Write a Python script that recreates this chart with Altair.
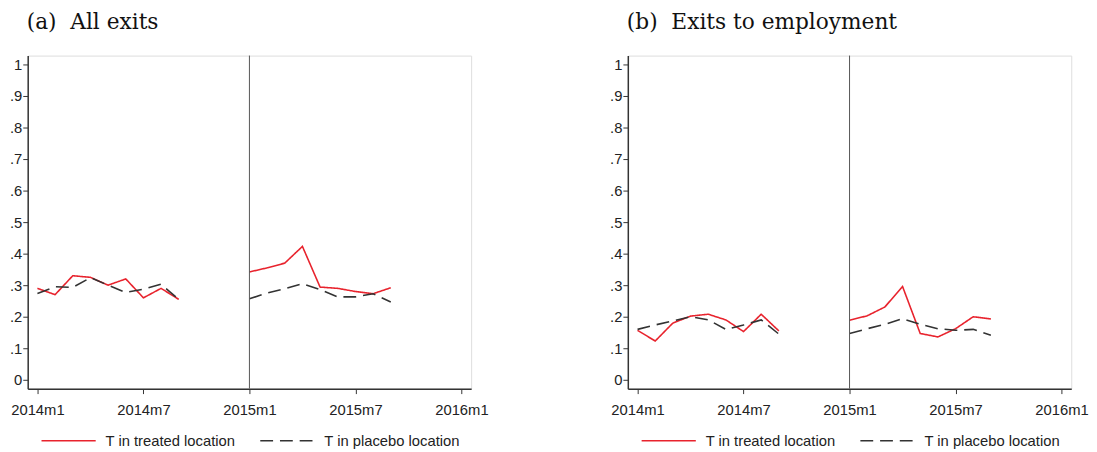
import altair as alt
import pandas as pd

# month index: 0 = 2014m1
months_2014 = list(range(0, 9))
months_2015 = list(range(12, 21))
tick_values = [0, 6, 12, 18, 24]
tick_labels = ["2014m1", "2014m7", "2015m1", "2015m7", "2016m1"]
series_names = ["T in treated location", "T in placebo location"]

# Panel (a) All exits
a_treated_2014 = [0.29, 0.27, 0.33, 0.325, 0.30, 0.32, 0.26, 0.29, 0.255]
a_placebo_2014 = [0.274, 0.295, 0.293, 0.324, 0.30, 0.277, 0.287, 0.303, 0.255]
a_treated_2015 = [0.342, 0.355, 0.37, 0.423, 0.294, 0.29, 0.28, 0.273, 0.292]
a_placebo_2015 = [0.257, 0.275, 0.289, 0.305, 0.286, 0.263, 0.263, 0.273, 0.247]

# Panel (b) Exits to employment
b_treated_2014 = [0.157, 0.123, 0.18, 0.202, 0.208, 0.19, 0.153, 0.208, 0.155]
b_placebo_2014 = [0.16, 0.174, 0.187, 0.2, 0.19, 0.16, 0.174, 0.19, 0.145]
b_treated_2015 = [0.189, 0.203, 0.231, 0.296, 0.147, 0.136, 0.162, 0.2, 0.193]
b_placebo_2015 = [0.147, 0.162, 0.176, 0.194, 0.176, 0.162, 0.157, 0.16, 0.141]


def make_df(t14, p14, t15, p15):
    rows = []
    for seg, ms, t, p in (("pre", months_2014, t14, p14), ("post", months_2015, t15, p15)):
        for m, v in zip(ms, t):
            rows.append({"month": m, "value": v, "series": series_names[0], "seg": seg})
        for m, v in zip(ms, p):
            rows.append({"month": m, "value": v, "series": series_names[1], "seg": seg})
    return pd.DataFrame(rows)


label_expr = "[" + ",".join("'%s'" % s for s in tick_labels) + "][round(datum.value/6)]"
y_label_expr = "datum.value == 0 ? '0' : (datum.value == 1 ? '1' : replace(format(datum.value, '.1f'), '0.', '.'))"

FS = 15


def legend():
    return alt.Legend(title=None, orient="none", legendX=13, legendY=362, direction="horizontal",
                      symbolType="stroke", symbolSize=3025,
                      symbolStrokeWidth=1.5, labelFontSize=FS,
                      labelFont="Liberation Sans", labelColor="#222",
                      labelOffset=9, columnPadding=22, padding=0)


def panel(df, title):
    base = alt.Chart(df)
    lines = base.mark_line(strokeWidth=1.6, clip=True).encode(
        x=alt.X("month:Q",
                scale=alt.Scale(domain=[-0.55, 24.55], nice=False, zero=False),
                axis=alt.Axis(values=tick_values, labelExpr=label_expr, title=None,
                              grid=False, tickSize=5, domainColor="#333", domainWidth=1.5,
                              tickColor="#333", labelFontSize=FS, labelColor="#222",
                              labelFont="Liberation Sans", labelPadding=9)),
        y=alt.Y("value:Q",
                scale=alt.Scale(domain=[-0.028, 1.028], nice=False, zero=False),
                axis=alt.Axis(values=[i / 10 for i in range(11)], labelExpr=y_label_expr,
                              title=None, grid=False, tickSize=5, domainColor="#333",
                              domainWidth=1.5, tickColor="#333", labelFontSize=FS,
                              labelColor="#222", labelFont="Liberation Sans", labelPadding=1)),
        color=alt.Color("series:N",
                        scale=alt.Scale(domain=series_names, range=["#e8232d", "#333333"]),
                        legend=legend()),
        strokeDash=alt.StrokeDash("series:N",
                                  scale=alt.Scale(domain=series_names, range=[[1, 0], [13, 7]]),
                                  legend=legend()),
        detail="seg:N",
    )
    vline = alt.Chart(pd.DataFrame({"m": [12]})).mark_rule(color="#555", strokeWidth=1).encode(
        x="m:Q"
    )
    return alt.layer(lines, vline).properties(
        width=450, height=338,
        title=alt.TitleParams(title, anchor="start", frame="group", fontSize=22,
                              font="DejaVu Serif", fontWeight="normal", color="#111",
                              offset=21, dx=-1)
    )


left = panel(make_df(a_treated_2014, a_placebo_2014, a_treated_2015, a_placebo_2015),
             "(a)\u00a0\u00a0All exits")
right = panel(make_df(b_treated_2014, b_placebo_2014, b_treated_2015, b_placebo_2015),
              "(b)\u00a0\u00a0Exits to employment")

chart = alt.hconcat(left, right, spacing=121).resolve_scale(
    color="independent", strokeDash="independent"
).configure_view(stroke="#777", strokeWidth=1).configure(padding=0).configure_axis(tickWidth=1)

chart.save("out.html", embed_options={"renderer": "svg", "actions": False})
